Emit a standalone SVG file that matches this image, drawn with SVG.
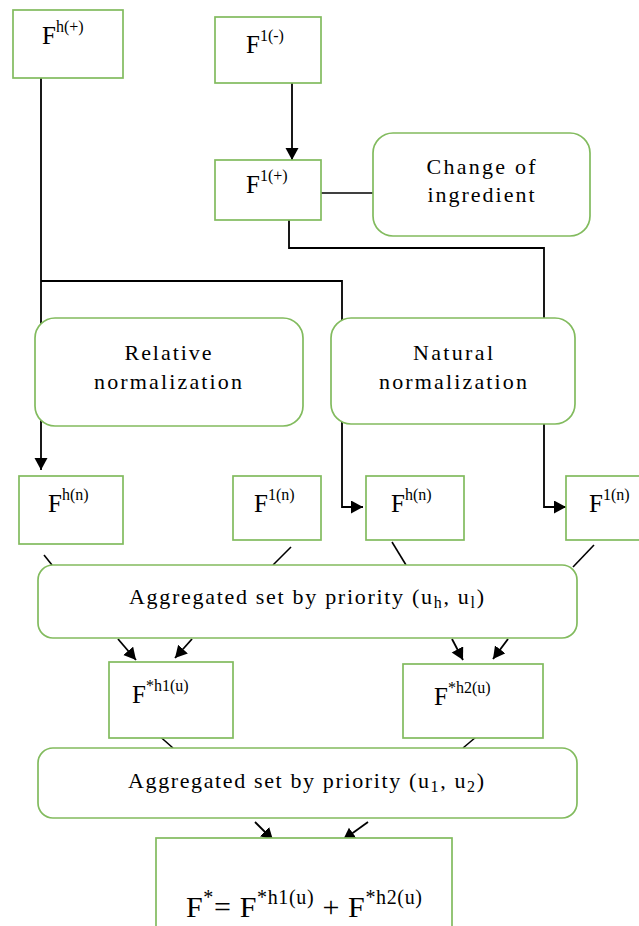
<svg xmlns="http://www.w3.org/2000/svg" width="639" height="926" viewBox="0 0 639 926">
<style>
.box{fill:#fff;stroke:#82bb5e;stroke-width:1.7}
.ln{fill:none;stroke:#000;stroke-width:1.6}
.ar{fill:none;stroke:#000;stroke-width:1.8;marker-end:url(#ah)}
text{font-family:"Liberation Serif","Times New Roman",serif;fill:#000}
.t{font-size:22px}
.f{font-size:25px}
.s{font-size:16px}
</style>
<defs>
<marker id="ah" markerUnits="userSpaceOnUse" markerWidth="14" markerHeight="14" refX="12" refY="6.5" orient="auto">
<path d="M0,0 L12,6.5 L0,13 z" fill="#000"/>
</marker>
</defs>
<g id="connectors">
<path class="ar" d="M41,78 V470"/>
<path class="ar" d="M41,281 H342 V507 H363"/>
<path class="ar" d="M292,83 V160"/>
<path class="ln" d="M321,193 H373"/>
<path class="ar" d="M289,220 V248 H544 V507 H566"/>
<path class="ln" d="M44,555 L52,565"/>
<path class="ln" d="M291,547 L273,565"/>
<path class="ln" d="M392,542 L406,565"/>
<path class="ln" d="M594,545 L573,567"/>
<path class="ar" d="M118,639 L136,660"/>
<path class="ar" d="M192,639 L175,658"/>
<path class="ar" d="M452,639 L463,660"/>
<path class="ar" d="M508,639 L493,659"/>
<path class="ln" d="M156,733 L173,748"/>
<path class="ln" d="M476,737 L463,748"/>
<path class="ar" d="M255,822 L273,840"/>
<path class="ar" d="M368,822 L343,840"/>
</g>
<g id="n-fhp">
<rect class="box" x="13" y="10" width="110" height="68"/>
<text class="f" x="42" y="44">F<tspan class="s" dy="-12">h(+)</tspan></text>
</g>
<g id="n-f1m">
<rect class="box" x="215" y="17" width="106" height="66"/>
<text class="f" x="246" y="53">F<tspan class="s" dy="-12">1(-)</tspan></text>
</g>
<g id="n-f1p">
<rect class="box" x="215" y="160" width="106" height="60"/>
<text class="f" x="246" y="193">F<tspan class="s" dy="-12">1(+)</tspan></text>
</g>
<g id="n-change">
<rect class="box" x="373" y="133" width="217" height="103" rx="20"/>
<text class="t" x="481" y="174" text-anchor="middle" textLength="109" lengthAdjust="spacing">Change of</text>
<text class="t" x="481" y="202" text-anchor="middle" textLength="107" lengthAdjust="spacing">ingredient</text>
</g>
<g id="n-relative">
<rect class="box" x="35" y="318" width="268" height="108" rx="20"/>
<text class="t" x="168" y="360" text-anchor="middle" textLength="87" lengthAdjust="spacing">Relative</text>
<text class="t" x="168" y="389" text-anchor="middle" textLength="148" lengthAdjust="spacing">normalization</text>
</g>
<g id="n-natural">
<rect class="box" x="331" y="318" width="244" height="106" rx="20"/>
<text class="t" x="453" y="360" text-anchor="middle" textLength="80" lengthAdjust="spacing">Natural</text>
<text class="t" x="453" y="389" text-anchor="middle" textLength="148" lengthAdjust="spacing">normalization</text>
</g>
<g id="n-fhn1">
<rect class="box" x="19" y="476" width="104" height="68"/>
<text class="f" x="48" y="512">F<tspan class="s" dy="-12">h(n)</tspan></text>
</g>
<g id="n-f1n1">
<rect class="box" x="233" y="476" width="88" height="64"/>
<text class="f" x="254" y="512">F<tspan class="s" dy="-12">1(n)</tspan></text>
</g>
<g id="n-fhn2">
<rect class="box" x="366" y="476" width="98" height="64"/>
<text class="f" x="391" y="512">F<tspan class="s" dy="-12">h(n)</tspan></text>
</g>
<g id="n-f1n2">
<rect class="box" x="566" y="476" width="90" height="64"/>
<text class="f" x="589" y="512">F<tspan class="s" dy="-12">1(n)</tspan></text>
</g>
<g id="n-agg1">
<rect class="box" x="38" y="565" width="539" height="73" rx="15"/>
<text class="t" x="129" y="604" textLength="355" lengthAdjust="spacing">Aggregated set by priority (u<tspan class="s" dy="4">h</tspan><tspan dy="-4">, u</tspan><tspan class="s" dy="4">l</tspan><tspan dy="-4">)</tspan></text>
</g>
<g id="n-fh1u">
<rect class="box" x="109" y="662" width="124" height="76"/>
<text class="f" x="132" y="703">F<tspan class="s" dy="-12">*h1(u)</tspan></text>
</g>
<g id="n-fh2u">
<rect class="box" x="403" y="664" width="140" height="74"/>
<text class="f" x="434" y="705">F<tspan class="s" dy="-12">*h2(u)</tspan></text>
</g>
<g id="n-agg2">
<rect class="box" x="38" y="748" width="539" height="70" rx="15"/>
<text class="t" x="128" y="788" textLength="356" lengthAdjust="spacing">Aggregated set by priority (u<tspan class="s" dy="4">1</tspan><tspan dy="-4">, u</tspan><tspan class="s" dy="4">2</tspan><tspan dy="-4">)</tspan></text>
</g>
<g id="n-final">
<rect class="box" x="156" y="838" width="296" height="100"/>
<text x="186" y="917" font-size="30" textLength="236" lengthAdjust="spacing">F<tspan font-size="20" dy="-13">*</tspan><tspan dy="13">= F</tspan><tspan font-size="20" dy="-13">*h1(u)</tspan><tspan dy="13"> + F</tspan><tspan font-size="20" dy="-13">*h2(u)</tspan></text>
</g>
</svg>
